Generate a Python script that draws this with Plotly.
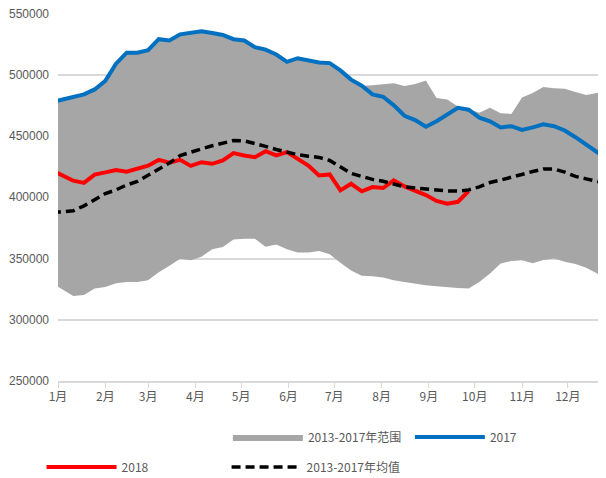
import plotly.graph_objects as go

# Weekly observations (week index -1 .. 51, first point is the last week of the prior year)
week_index = list(range(-1, 52))
day_of_year = [3 + 7 * k for k in week_index]

month_days = [0, 31, 59, 90, 120, 151, 181, 212, 243, 273, 304, 334]
month_labels = ["1月", "2月", "3月", "4月", "5月", "6月", "7月", "8月", "9月", "10月", "11月", "12月"]

y_ticks = [250000, 300000, 350000, 400000, 450000, 500000, 550000]

series_2017 = [477700, 479800, 482000, 484000, 488000, 495000, 509000, 518000, 518000, 520000,
               529000, 528000, 533000, 534000, 535500, 534000, 532500, 529000, 528000, 522500,
               520500, 516500, 510500, 513500, 511500, 510000, 509500, 503500, 496000, 491000,
               484000, 482000, 475000, 466500, 463000, 457500, 462000, 467500, 473000, 471500,
               465000, 462000, 457000, 458000, 455000, 457000, 459500, 458000, 454500, 449000,
               443000, 437500, 431000]

range_max = [477700, 479800, 482000, 484000, 488000, 495000, 509000, 518000, 518000, 520000,
             529000, 528000, 533000, 534000, 535500, 534000, 532500, 529000, 528000, 522500,
             520500, 516500, 510500, 513500, 511500, 510000, 509500, 503500, 496000, 491000,
             491500, 492200, 493000, 490800, 492500, 495200, 481000, 479700, 474000, 472000,
             469000, 473000, 468600, 468000, 481500, 485000, 490000, 489000, 488500, 486000,
             483500, 485000, 486000]

range_min = [330000, 324700, 319300, 320200, 325500, 326700, 329800, 330800, 330900, 332300,
             338700, 344000, 349800, 348600, 351500, 357500, 359300, 365500, 366200, 366200,
             359600, 361400, 357600, 354900, 354800, 356100, 353500, 346500, 340200, 336000,
             335600, 334500, 332200, 330800, 329300, 328100, 327400, 326500, 326000, 325500,
             330800, 337800, 346000, 348000, 348600, 346200, 348700, 350000, 347300, 345600,
             342500, 338000, 332000]

series_2018 = [422000, 418000, 413500, 411700, 418500, 420300, 422300, 420800, 423500, 425800,
               430500, 428200, 430500, 425600, 428600, 427300, 430000, 436000, 434100, 432700,
               437600, 434100, 436800, 431400, 425900, 417800, 418600, 405600, 411000, 404800,
               408300, 407500, 413700, 408800, 405600, 401800, 397000, 394700, 396300, 405000]

mean_2013_2017 = [388000, 388000, 389000, 393000, 398000, 403000, 406000, 410000, 413000, 418000,
                  423000, 428000, 434000, 437000, 439500, 442000, 444500, 446300, 446000, 444000,
                  441500, 439000, 436500, 434700, 433500, 432500, 430000, 425000, 419500, 417000,
                  414600, 413000, 411000, 408500, 407500, 406500, 405800, 405200, 405000, 406000,
                  408500, 412000, 414000, 416500, 419000, 421000, 423000, 423000, 420500, 417000,
                  415000, 413000, 411000]

FONT = "Liberation Sans, Noto Sans CJK SC"
LEGEND_FONT = "Noto Sans CJK SC"
TXT = "#595959"
GRID = "#D9D9D9"

fig = go.Figure()
fig.add_trace(go.Scatter(x=day_of_year, y=range_min, mode="lines", line=dict(width=0, color="#A6A6A6"),
                         showlegend=False, hoverinfo="skip"))
fig.add_trace(go.Scatter(x=day_of_year, y=range_max, mode="lines", fill="tonexty",
                         fillcolor="#A6A6A6", line=dict(width=0, color="#A6A6A6"),
                         name="2013-2017年范围", legend="legend"))
fig.add_trace(go.Scatter(x=day_of_year, y=series_2017, mode="lines",
                         line=dict(color="#0070C0", width=4), name="2017", legend="legend"))
fig.add_trace(go.Scatter(x=day_of_year[:len(series_2018)], y=series_2018, mode="lines",
                         line=dict(color="#FF0000", width=4), name="2018", legend="legend2"))
fig.add_trace(go.Scatter(x=day_of_year, y=mean_2013_2017, mode="lines",
                         line=dict(color="#000000", width=3.5, dash="9px,5px"),
                         name="2013-2017年均值", legend="legend2"))

legend_common = dict(orientation="h", yanchor="middle", xanchor="left",
                     font=dict(family=LEGEND_FONT, size=12, color=TXT),
                     bgcolor="rgba(0,0,0,0)", itemwidth=70,
                     entrywidthmode="pixels", traceorder="normal")

# the page body adds an 8px offset, so the figure is 8px smaller on each side
fig.update_layout(
    width=598, height=470,
    margin=dict(l=50, r=0, t=5, b=97, autoexpand=False),
    paper_bgcolor="white", plot_bgcolor="white",
    font=dict(family=FONT, size=12, color=TXT),
    legend=dict(x=0.31, y=-0.152, entrywidth=97, **legend_common),
    legend2=dict(x=-0.03, y=-0.234, entrywidth=100, **legend_common),
    xaxis=dict(range=[0, 359], tickmode="array", tickvals=month_days, ticktext=month_labels,
               showgrid=False, showline=True, linecolor=GRID, linewidth=1.5,
               ticks="outside", ticklen=5, tickcolor=GRID, tickwidth=1,
               ticklabelstandoff=-1,
               tickfont=dict(family=LEGEND_FONT, size=12, color=TXT), zeroline=False),
    yaxis=dict(range=[250000, 550400], tickmode="array", tickvals=y_ticks,
               tickformat="d", showgrid=True, gridcolor=GRID, gridwidth=1.5,
               showline=False, zeroline=False, ticks="", ticklabelstandoff=8,
               ticklabeloverflow="allow",
               tickfont=dict(family="Liberation Sans", size=12, color=TXT)),
    showlegend=True,
)

fig.write_html("out.html")
